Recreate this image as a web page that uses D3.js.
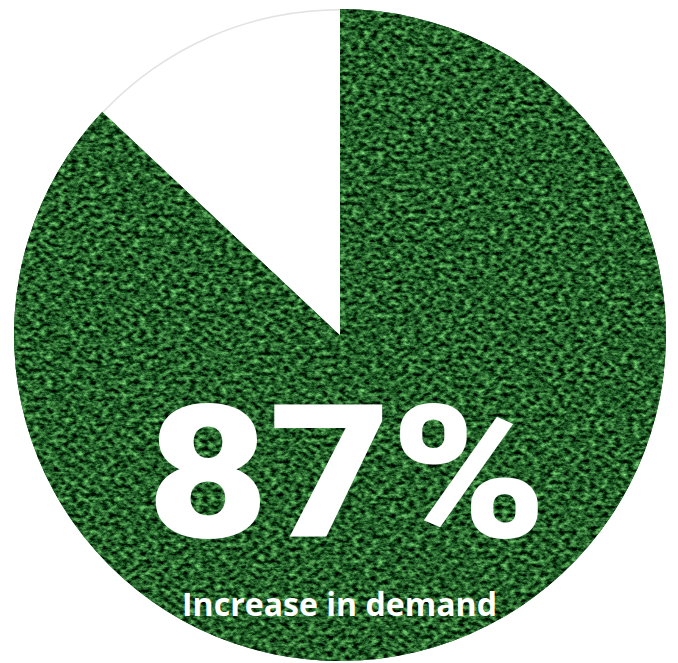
<!DOCTYPE html>
<html>
<head>
<meta charset="utf-8">
<script src="https://cdn.jsdelivr.net/npm/d3@7"></script>
<style>
  html, body { margin: 0; padding: 0; background: #ffffff; }
  svg { display: block; }
</style>
</head>
<body>
<svg id="chart" width="678" height="663"></svg>
<script>
const categories = ["Increase in demand", "Other"];
const values = [87, 13];
const headline = "87%";
const caption = "Increase in demand";

const W = 678, H = 663;
const cx = 340, cy = 335, R = 326;

const svg = d3.select("#chart");
const defs = svg.append("defs");

// grass texture filter (region in the group's coordinates)
const f = defs.append("filter").attr("id", "grass")
  .attr("filterUnits", "userSpaceOnUse")
  .attr("color-interpolation-filters", "sRGB")
  .attr("x", -cx).attr("y", -cy).attr("width", W).attr("height", H);
f.append("feTurbulence").attr("type", "fractalNoise")
  .attr("baseFrequency", "0.16 0.24").attr("numOctaves", 4).attr("seed", 7).attr("result", "n");
f.append("feColorMatrix").attr("in", "n").attr("type", "matrix")
  .attr("values", [
    "0.9 0 0 0 -0.31",
    "1.3 0 0 0 -0.28",
    "0.8 0 0 0 -0.24",
    "0 0 0 0 1"
  ].join(" "))
  .attr("result", "c");
f.append("feComposite").attr("in", "c").attr("in2", "SourceGraphic").attr("operator", "in");

const pie = d3.pie().sort(null).value(d => d)(values);
const arc = d3.arc().innerRadius(0).outerRadius(R);
const rim = d3.arc().innerRadius(R - 1.5).outerRadius(R);

const g = svg.append("g").attr("transform", `translate(${cx},${cy})`);

// base green
g.append("path").attr("d", arc(pie[0])).attr("fill", "#1e5a22");
// texture
g.append("path").attr("d", arc(pie[0])).attr("fill", "#000").attr("filter", "url(#grass)");
// white slice
g.append("path").attr("d", arc(pie[1])).attr("fill", "#ffffff");
g.append("path").attr("d", rim(pie[1])).attr("fill", "#e2e2e2");

svg.append("text")
  .attr("x", 347).attr("y", 537)
  .attr("text-anchor", "middle")
  .attr("font-family", "Roboto, 'Open Sans', sans-serif")
  .attr("font-weight", 900)
  .attr("font-size", 186)
  .attr("textLength", 400)
  .attr("lengthAdjust", "spacingAndGlyphs")
  .attr("fill", "#ffffff")
  .text(headline);

svg.append("text")
  .attr("x", 339.5).attr("y", 616)
  .attr("text-anchor", "middle")
  .attr("font-family", "'Open Sans', sans-serif")
  .attr("font-weight", 700)
  .attr("font-size", 32)
  .attr("textLength", 315)
  .attr("lengthAdjust", "spacingAndGlyphs")
  .attr("fill", "#ffffff")
  .text(caption);
</script>
</body>
</html>
